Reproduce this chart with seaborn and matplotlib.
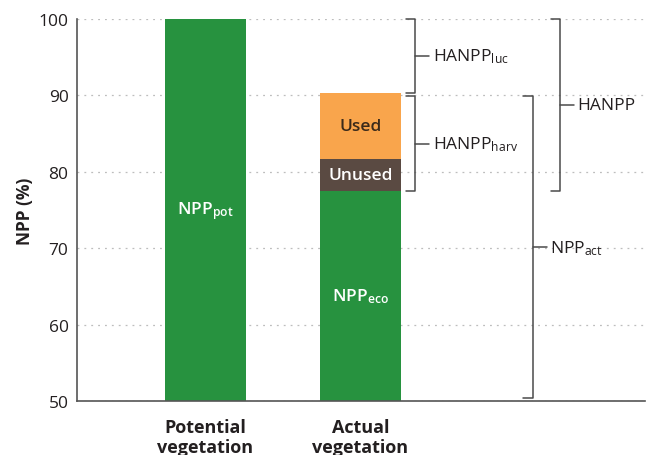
# plot.py
# Potential vs actual NPP, with HANPP brackets.

import matplotlib
matplotlib.use("Agg")
import matplotlib.pyplot as plt
import pandas as pd
import seaborn as sns

categories = ["Potential\nvegetation", "Actual\nvegetation"]
npp_pot = 100.0
npp_eco = 77.5
unused = 4.2
used = 8.6

green = "#27923f"
brown = "#5a4a42"
orange = "#f9a54c"
ink = "#231f20"
line_col = "#4a4a4a"

sns.set_style("white")
plt.rcParams["font.family"] = ["Open Sans", "DejaVu Sans"]
plt.rcParams["mathtext.default"] = "regular"

fig = plt.figure(figsize=(6.52, 4.56), dpi=100)
ax = fig.add_axes([0.118, 0.118, 0.871, 0.838])

# stacked bars: draw cumulative tops, largest first
total = npp_eco + unused + used
layers = [
    (categories[1], total, orange),
    (categories[1], npp_eco + unused, brown),
    (categories[1], npp_eco, green),
    (categories[0], npp_pot, green),
]
for cat, top, col in layers:
    df = pd.DataFrame({"veg": [cat], "npp": [top]})
    sns.barplot(data=df, x="veg", y="npp", order=categories, color=col,
                width=0.52, saturation=1, linewidth=0, ax=ax, zorder=2)

ax.set_ylim(50, 100)
ax.set_xlim(-0.83, 2.835)
ax.set_yticks([50, 60, 70, 80, 90, 100])
ax.yaxis.grid(True, linestyle=(0, (1.5, 4)), color="#bdbdbd", linewidth=0.9, zorder=0)
ax.set_axisbelow(True)
sns.despine(ax=ax, top=True, right=True)
for s in ("left", "bottom"):
    ax.spines[s].set_color("#555555")
    ax.spines[s].set_linewidth(1.2)

ax.tick_params(axis="y", direction="in", length=7, width=1, color="#555555",
               labelsize=12.5, labelcolor=ink, pad=6)
ax.tick_params(axis="x", length=0, pad=12)
for lab in ax.get_xticklabels():
    lab.set_fontsize(13)
    lab.set_fontweight("bold")
    lab.set_color(ink)
    lab.set_linespacing(1.15)
ax.set_xlabel("")
ax.set_ylabel("NPP (%)", fontsize=12.5, fontweight="bold", color=ink, labelpad=3)

# labels inside bars
ax.text(0, (50 + npp_pot) / 2, "NPP$_{pot}$", color="white", fontsize=12.5,
        fontweight="semibold", ha="center", va="center", zorder=3)
ax.text(1, (50 + npp_eco) / 2, "NPP$_{eco}$", color="white", fontsize=12.5,
        fontweight="semibold", ha="center", va="center", zorder=3)
ax.text(1, npp_eco + unused / 2, "Unused", color="white", fontsize=12.5,
        fontweight="semibold", ha="center", va="center", zorder=3)
ax.text(1, npp_eco + unused + used / 2, "Used", color="#3b2a1a", fontsize=12.5,
        fontweight="semibold", ha="center", va="center", zorder=3)


def bracket(x, y0, y1, label, tick=0.06, arm=0.09):
    ax.plot([x - tick, x, x, x - tick], [y0, y0, y1, y1], color=line_col,
            lw=1.1, clip_on=False, zorder=3)
    mid = (y0 + y1) / 2
    ax.plot([x, x + arm], [mid, mid], color=line_col, lw=1.1, clip_on=False, zorder=3)
    ax.text(x + arm + 0.025, mid, label, fontsize=12.5, color=ink,
            ha="left", va="center", zorder=3)


gap = 0.4
bracket(1.354, total, npp_pot, "HANPP$_{luc}$")
bracket(1.354, npp_eco, total - gap, "HANPP$_{harv}$")
bracket(2.111, 50 + gap, total - gap, "NPP$_{act}$")
bracket(2.287, npp_eco, npp_pot, "HANPP")

fig.savefig("out.png", dpi=100)
